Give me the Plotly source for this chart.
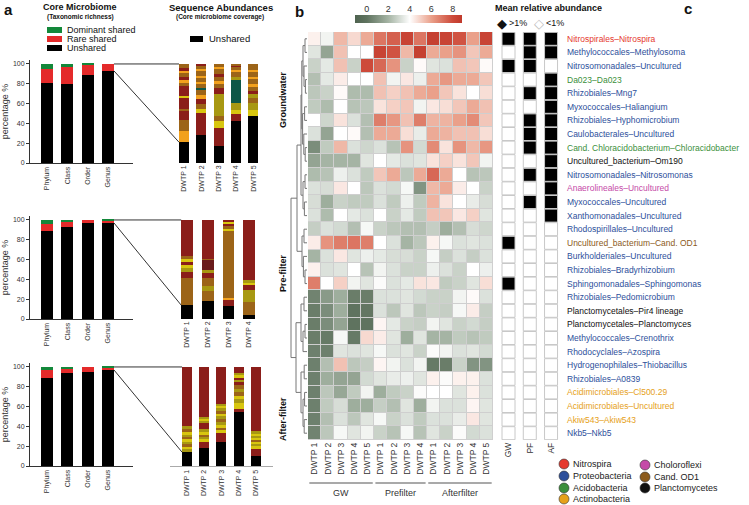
import plotly.graph_objects as go

W, H = 749, 505
FONT = "Liberation Sans, Arial, sans-serif"


def px(x):
    return x / W


def py(y):
    return 1 - y / H


# ---------------- panel a : core microbiome (taxonomic richness) ----------------
RANKS = ["Phylum", "Class", "Order", "Genus"]
GW_UNSHARED = [81, 80, 89, 93]
GW_RARE = [14, 17, 10, 7]
GW_DOMINANT = [5, 3, 1, 0]
PF_UNSHARED = [89, 93, 97, 97]
PF_RARE = [7, 5, 3, 2]
PF_DOMINANT = [4, 2, 0, 1]
AF_UNSHARED = [89, 94, 95, 97]
AF_RARE = [8, 4, 5, 2]
AF_DOMINANT = [3, 2, 0, 1]

# ---------------- sequence abundances (core microbiome coverage) ----------------
# k = unshared, other letters = shared genera (colour groups)
SEQ_COLORS = {"k": "#000000", "R": "#8b1e1a", "M": "#6a1c1c", "B": "#9c6418",
              "V": "#a89812", "Y": "#d8c60f", "O": "#f2a11d", "T": "#0e5747"}

GW_SAMPLES = ["DWTP 1", "DWTP 2", "DWTP 3", "DWTP 4", "DWTP 5"]
GW_SEQ_CODES = [
    list("kOBRBRYRBORBORB"),
    list("kRYBROBTBOBOBOBR"),
    list("kRYBVRBOBRBOB"),
    list("kRYVTVBOBRB"),
    list("kYVBVRBOBOBOB"),
]
GW_SEQ_VALUES = [
    [21, 11, 11, 10, 2, 11, 2, 10, 3, 3, 3, 4, 2, 3, 4],
    [28, 22, 5, 5, 5, 4, 5, 2, 4, 2, 4, 2, 5, 2, 3, 2],
    [17, 18, 7, 5, 23, 6, 4, 3, 4, 3, 5, 2, 3],
    [42, 7, 5, 7, 23, 3, 5, 2, 3, 1, 2],
    [47, 7, 7, 5, 4, 3, 4, 3, 5, 2, 5, 2, 6],
]

PF_SAMPLES = ["DWTP 1", "DWTP 2", "DWTP 3", "DWTP 4"]
PF_SEQ_CODES = [
    list("kBRVYRYBR"),
    list("kBVBRVMBR"),
    list("kROBYBRYR"),
    list("kBVRYVR"),
]
PF_SEQ_VALUES = [
    [14, 27, 6, 5, 3, 3, 3, 3, 36],
    [18, 10, 5, 8, 5, 3, 11, 1, 39],
    [13, 7, 1, 68, 2, 3, 2, 2, 2],
    [4, 13, 12, 5, 3, 2, 61],
]

AF_SAMPLES = ["DWTP 1", "DWTP 2", "DWTP 3", "DWTP 4", "DWTP 5"]
AF_SEQ_CODES = [
    list("kVYBVYBVYBVR"),
    list("kRYVBYVRVYVR"),
    list("kRYBYVBVYBVYVR"),
    list("kRYVYBVBRVRYVR"),
    list("kRYVYBYVYVR"),
]
AF_SEQ_VALUES = [
    [14, 3, 3, 2, 3, 2, 3, 2, 2, 3, 3, 60],
    [18, 7, 2, 3, 2, 2, 3, 6, 3, 2, 1, 51],
    [24, 9, 3, 3, 2, 3, 3, 3, 3, 3, 3, 2, 2, 37],
    [55, 3, 6, 4, 3, 4, 3, 4, 3, 2, 2, 3, 2, 6],
    [10, 8, 2, 3, 2, 2, 2, 2, 2, 2, 65],
]

# ---------------- panel b : heatmap ----------------
HEAT_COLS = ["DWTP 1", "DWTP 2", "DWTP 3", "DWTP 4", "DWTP 5",
             "DWTP 1", "DWTP 2", "DWTP 3", "DWTP 4",
             "DWTP 1", "DWTP 2", "DWTP 3", "DWTP 4", "DWTP 5"]
HEAT_Z = [
    [4.3, 3.7, 5.5, 4.8, 5.8, 7.0, 7.5, 8.3, 7.0, 8.5, 8.3, 7.8, 6.0, 8.3],
    [3.3, 1.5, 5.3, 4.0, 4.0, 8.3, 7.8, 5.5, 8.5, 5.8, 6.0, 6.3, 5.2, 5.8],
    [2.8, 3.4, 5.3, 2.8, 8.0, 7.3, 6.3, 2.8, 4.1, 3.3, 3.2, 5.3, 5.2, 4.1],
    [2.3, 3.4, 4.4, 4.0, 4.0, 5.3, 3.7, 4.5, 3.6, 5.8, 6.2, 5.8, 5.8, 5.2],
    [2.5, 2.8, 4.1, 2.2, 2.2, 5.3, 5.0, 5.3, 5.8, 6.0, 5.2, 4.6, 4.0, 4.7],
    [2.6, 2.2, 4.0, 2.4, 2.5, 4.6, 5.0, 5.2, 3.7, 4.5, 4.7, 5.2, 5.8, 5.3],
    [4.0, 2.9, 4.6, 3.2, 2.3, 6.8, 6.2, 5.3, 6.8, 5.6, 5.6, 6.0, 6.5, 5.2],
    [3.2, 1.5, 4.0, 4.1, 2.3, 5.8, 5.8, 4.7, 3.5, 5.8, 5.6, 5.3, 5.3, 4.7],
    [0.8, 2.6, 5.5, 3.2, 2.9, 3.2, 2.4, 6.3, 3.0, 6.5, 4.6, 6.3, 5.5, 6.2],
    [1.5, 2.0, 2.0, 2.0, 3.3, 4.0, 3.4, 3.2, 3.3, 4.6, 5.0, 4.6, 5.2, 3.7],
    [2.2, 2.4, 3.6, 3.2, 2.6, 5.2, 5.8, 2.5, 5.8, 7.3, 5.8, 4.0, 2.4, 2.5],
    [3.2, 3.1, 4.5, 4.0, 2.5, 3.2, 3.0, 3.8, 1.0, 5.5, 5.8, 4.4, 4.0, 2.8],
    [3.1, 1.8, 2.8, 2.6, 2.6, 3.2, 2.6, 3.6, 2.6, 5.6, 4.6, 4.0, 3.5, 3.1],
    [3.2, 2.2, 4.0, 3.4, 3.2, 4.0, 2.8, 3.4, 2.6, 5.3, 5.2, 4.5, 5.0, 3.3],
    [2.7, 3.2, 3.0, 2.3, 3.8, 2.8, 2.5, 2.3, 2.3, 2.7, 1.8, 2.3, 3.1, 2.9],
    [4.4, 6.3, 6.8, 7.0, 6.8, 4.0, 3.2, 2.0, 2.5, 4.3, 3.8, 3.2, 3.3, 3.2],
    [2.0, 3.2, 4.5, 3.3, 3.6, 3.4, 3.1, 3.1, 2.8, 3.8, 2.7, 3.2, 2.7, 3.2],
    [4.3, 3.2, 3.3, 4.0, 2.4, 3.7, 3.2, 2.8, 2.8, 3.6, 3.2, 2.8, 4.0, 3.6],
    [6.8, 4.0, 5.0, 3.7, 3.3, 3.9, 3.2, 3.4, 4.6, 4.5, 2.6, 2.8, 3.3, 4.7],
    [0.5, 1.2, 1.8, 0.3, 0.3, 3.2, 3.2, 3.3, 3.0, 2.8, 2.8, 3.7, 4.1, 3.2],
    [0.3, 0.8, 1.8, 0.0, 0.1, 3.2, 2.5, 3.3, 2.5, 2.8, 2.7, 3.8, 4.4, 2.7],
    [0.3, 0.8, 1.5, 0.0, 0.0, 4.2, 3.4, 2.8, 2.7, 3.7, 3.3, 2.8, 3.0, 2.7],
    [0.3, 0.2, 3.8, 0.2, 4.8, 4.4, 3.3, 1.8, 3.3, 2.0, 2.0, 2.6, 2.4, 2.6],
    [0.4, 0.4, 3.3, 3.2, 3.3, 3.8, 3.2, 3.3, 2.8, 3.9, 3.7, 3.2, 3.3, 3.0],
    [0.4, 2.3, 5.3, 2.5, 2.7, 4.2, 3.7, 3.2, 3.7, 0.2, 0.3, 2.8, 1.0, 1.0],
    [0.4, 1.8, 1.5, 1.5, 3.0, 3.3, 3.5, 3.6, 3.3, 4.3, 3.9, 4.3, 4.3, 3.2],
    [0.4, 2.5, 1.6, 2.6, 3.7, 1.8, 2.6, 2.8, 3.9, 4.0, 4.0, 3.3, 4.3, 3.2],
    [0.4, 2.6, 3.1, 1.8, 1.8, 2.7, 2.3, 3.3, 1.8, 3.7, 3.2, 3.2, 4.2, 3.3],
    [0.4, 2.3, 3.2, 2.5, 3.3, 3.8, 2.8, 3.2, 2.6, 3.2, 3.2, 3.5, 4.5, 3.3],
    [0.5, 2.5, 3.8, 3.3, 3.7, 2.8, 2.4, 3.8, 2.4, 3.3, 2.8, 3.9, 3.0, 3.2],
]
HEAT_GROUPS = ["GW", "Prefilter", "Afterfilter"]
HEAT_GROUP_SPANS = [(0, 4), (5, 8), (9, 13)]

TAXA = [
    "Nitrospirales\u2013Nitrospira", "Methylococcales\u2013Methylosoma",
    "Nitrosomonadales\u2013Uncultured", "Da023\u2013Da023", "Rhizobiales\u2013Mng7",
    "Myxococcales\u2013Haliangium", "Rhizobiales\u2013Hyphomicrobium",
    "Caulobacterales\u2013Uncultured", "Cand. Chloracidobacterium\u2013Chloracidobacter",
    "Uncultured_bacterium\u2013Om190", "Nitrosomonadales\u2013Nitrosomonas",
    "Anaerolineales\u2013Uncultured", "Myxococcales\u2013Uncultured",
    "Xanthomonadales\u2013Uncultured", "Rhodospirillales\u2013Uncultured",
    "Uncultured_bacterium\u2013Cand. OD1", "Burkholderiales\u2013Uncultured",
    "Rhizobiales\u2013Bradyrhizobium", "Sphingomonadales\u2013Sphingomonas",
    "Rhizobiales\u2013Pedomicrobium", "Planctomycetales\u2013Pir4 lineage",
    "Planctomycetales\u2013Planctomyces", "Methylococcales\u2013Crenothrix",
    "Rhodocyclales\u2013Azospira", "Hydrogenophilales\u2013Thiobacillus",
    "Rhizobiales\u2013A0839", "Acidimicrobiales\u2013Cl500.29",
    "Acidimicrobiales\u2013Uncultured", "Akiw543\u2013Akiw543", "Nkb5\u2013Nkb5",
]
TAXA_PHYLUM = ["Nit", "Pro", "Pro", "Aci", "Pro", "Pro", "Pro", "Pro", "Aci", "Pla",
               "Pro", "Chl", "Pro", "Pro", "Pro", "OD1", "Pro", "Pro", "Pro", "Pro",
               "Pla", "Pla", "Pro", "Pro", "Pro", "Pro", "Act", "Act", "Act", "Pro"]

# mean relative abundance > 1 % (1) or < 1 % (0)
ABOVE_GW = [1, 0, 1, 0, 0, 0, 0, 0, 0, 0, 0, 0, 0, 0, 0,
            1, 0, 0, 1, 0, 0, 0, 0, 0, 0, 0, 0, 0, 0, 0]
ABOVE_PF = [1, 1, 1, 0, 1, 0, 1, 1, 1, 0, 1, 0, 1, 0, 0,
            0, 0, 0, 0, 0, 0, 0, 0, 0, 0, 0, 0, 0, 0, 0]
ABOVE_AF = [1, 1, 0, 1, 1, 1, 1, 1, 1, 1, 1, 1, 1, 1, 0,
            0, 0, 0, 0, 0, 0, 0, 0, 0, 0, 0, 0, 0, 0, 0]
BOX_COLS = ["GW", "PF", "AF"]

PHYLA = ["Nitrospira", "Proteobacteria", "Acidobacteria", "Actinobacteria",
         "Choloroflexi", "Cand. OD1", "Planctomycetes"]
PHYLA_KEYS = ["Nit", "Pro", "Aci", "Act", "Chl", "OD1", "Pla"]
PHYLA_COLORS = ["#e5392e", "#2d4f9b", "#3b8f3b", "#e6a11a", "#c54aa8", "#8c5b1c", "#111111"]
PHYLUM_COLOR = dict(zip(PHYLA_KEYS, PHYLA_COLORS))

# dendrogram (height, left, right); leaves are row indices
TREE = (8,
        (5,
         (3,
          (2.6,
           (2, (1, 0, 1), (1.5, 2, (0.8, 3, 4))),
           (2.2, (1.2, 5, 6), (1.6, 7, (0.9, 8, 9)))),
          (2, (1, 10, 11), (1.3, 12, 13))),
         (2.5, (1.5, 14, 15), (1.8, 16, (1, 17, 18)))),
        (5.5,
         (3, (1.5, 19, 20), (2, (1, 21, 22), 23)),
         (3, (1.4, 24, 25), (2, (1.2, 26, 27), (1.4, 28, 29)))))

fig = go.Figure()

# ---- core microbiome bars ----
core_sets = [(GW_UNSHARED, GW_RARE, GW_DOMINANT, ""),
             (PF_UNSHARED, PF_RARE, PF_DOMINANT, "2"),
             (AF_UNSHARED, AF_RARE, AF_DOMINANT, "3")]
for unsh, rare, dom, ax in core_sets:
    for vals, col in [(unsh, "#000000"), (rare, "#e42a2a"), (dom, "#13883a")]:
        fig.add_trace(go.Bar(x=RANKS, y=vals, marker=dict(color=col, line=dict(width=0)),
                             width=0.6, xaxis="x" + ax, yaxis="y" + ax, showlegend=False))

# ---- sequence abundance bars ----
seq_sets = [(GW_SAMPLES, GW_SEQ_CODES, GW_SEQ_VALUES, "4", 0.58),
            (PF_SAMPLES, PF_SEQ_CODES, PF_SEQ_VALUES, "5", 0.56),
            (AF_SAMPLES, AF_SEQ_CODES, AF_SEQ_VALUES, "6", 0.58)]
for samples, codes, values, ax, w in seq_sets:
    for s, cs, vs in zip(samples, codes, values):
        for c, v in zip(cs, vs):
            fig.add_trace(go.Bar(x=[s], y=[v], marker=dict(color=SEQ_COLORS[c], line=dict(width=0)),
                                 width=w, xaxis="x" + ax, yaxis="y" + ax, showlegend=False))

# ---- heatmap ----
ZMIN, ZMAX = -1.1, 8.85


def zt(v):
    return (v - ZMIN) / (ZMAX - ZMIN)


colorscale = [[0, "#4f6350"], [zt(0), "#5f735f"], [zt(2), "#a5b4a4"], [zt(4), "#ffffff"],
              [zt(6), "#eaa08a"], [zt(8), "#cd4a3a"], [1, "#c0392b"]]
fig.add_trace(go.Heatmap(
    z=HEAT_Z, x=list(range(len(HEAT_COLS))), y=list(range(len(TAXA))),
    colorscale=colorscale, zmin=ZMIN, zmax=ZMAX, xgap=1, ygap=1,
    xaxis="x7", yaxis="y7",
    colorbar=dict(orientation="h", x=px(355), xanchor="left", y=py(15), yanchor="top",
                  len=107, lenmode="pixels", thickness=8, xpad=0, ypad=0,
                  outlinewidth=0, showticklabels=False, ticks=""),
))

# ---- >1% boxes ----
bx, by, bc = [], [], []
for j, col in enumerate([ABOVE_GW, ABOVE_PF, ABOVE_AF]):
    for i, a in enumerate(col):
        bx.append(j)
        by.append(i)
        bc.append("#000000" if a else "#ffffff")
fig.add_trace(go.Scatter(x=bx, y=by, mode="markers", xaxis="x8", yaxis="y8", showlegend=False,
                         marker=dict(symbol="square", size=13, color=bc,
                                     line=dict(color="#c8c8c8", width=1))))

# dummy trace carrying the colour-bar tick axis
fig.add_trace(go.Scatter(x=[None], y=[None], xaxis="x9", yaxis="y9", showlegend=False))

# ---------------- axes ----------------
tick_font = dict(size=7, color="#333")
core_dom = [[py(163), py(60)], [py(319), py(216)], [py(466), py(363)]]
seq_ranges = [[-0.81, 5.14], [-0.82, 4.15], [-0.99, 5.0]]
layout_axes = {}
for k, ax in enumerate(["", "2", "3"]):
    layout_axes["xaxis" + ax] = dict(domain=[px(30), px(133)], range=[-0.84, 4.24], anchor="y" + ax,
                                     type="category", showline=True, linecolor="#333", ticks="",
                                     tickangle=-90, tickfont=tick_font, showgrid=False, zeroline=False)
    layout_axes["yaxis" + ax] = dict(domain=core_dom[k], range=[0, 104], anchor="x" + ax,
                                     showline=True, linecolor="#333", ticks="outside", ticklen=3,
                                     tickcolor="#333", tickvals=[0, 20, 40, 60, 80, 100],
                                     tickfont=tick_font, showgrid=False, zeroline=False,
                                     title=dict(text="percentage %", font=dict(size=9, color="#333"),
                                                standoff=4))
for k, ax in enumerate(["4", "5", "6"]):
    layout_axes["xaxis" + ax] = dict(domain=[px(170), px(273)], range=seq_ranges[k], anchor="y" + ax,
                                     type="category", showline=(k == 2), linecolor="#aaa", ticks="",
                                     tickangle=-90, tickfont=tick_font, showgrid=False, zeroline=False)
    layout_axes["yaxis" + ax] = dict(domain=core_dom[k], range=[0, 104], anchor="x" + ax, visible=False)

heat_ydom = [py(440), py(32)]
layout_axes["xaxis7"] = dict(domain=[px(308), px(493)], range=[-0.5, 13.5], anchor="y7",
                             tickvals=list(range(len(HEAT_COLS))), ticktext=HEAT_COLS, tickangle=-90,
                             tickfont=dict(size=8.5, color="#333"), ticks="", showgrid=False,
                             zeroline=False, showline=False)
layout_axes["yaxis7"] = dict(domain=heat_ydom, range=[29.5, -0.5], anchor="x7", visible=False)
layout_axes["xaxis8"] = dict(domain=[px(500), px(560)], range=[-0.4, 2.42], anchor="y8",
                             tickvals=[0, 1, 2], ticktext=BOX_COLS, tickangle=-90,
                             tickfont=dict(size=8.5, color="#333"), ticks="", showgrid=False,
                             zeroline=False, showline=False)
layout_axes["yaxis8"] = dict(domain=heat_ydom, range=[29.5, -0.5], anchor="x8", visible=False)
layout_axes["xaxis9"] = dict(domain=[px(355), px(462)], range=[ZMIN, ZMAX], anchor="y9", side="top",
                             tickvals=[0, 2, 4, 6, 8], tickfont=dict(size=9, color="#333"), ticks="",
                             showgrid=False, zeroline=False, showline=False)
layout_axes["yaxis9"] = dict(domain=[py(23), py(15)], range=[0, 1], anchor="x9", visible=False)

# ---------------- shapes ----------------
shapes = []
LINE = dict(color="#333", width=1)


def ax_to_paper(v, dom, rng):
    return dom[0] + (v - rng[0]) / (rng[1] - rng[0]) * (dom[1] - dom[0])


core_xdom = [px(30), px(133)]
core_xrng = [-0.84, 4.24]
seq_xdom = [px(170), px(273)]
for k, (unsh, seqvals, w) in enumerate([(GW_UNSHARED, GW_SEQ_VALUES, 0.58),
                                        (PF_UNSHARED, PF_SEQ_VALUES, 0.56),
                                        (AF_UNSHARED, AF_SEQ_VALUES, 0.58)]):
    x0 = ax_to_paper(3 + 0.3, core_xdom, core_xrng)
    x1 = ax_to_paper(0 - w / 2, seq_xdom, seq_ranges[k])
    ytop = ax_to_paper(100, core_dom[k], [0, 104])
    y0 = ax_to_paper(unsh[3], core_dom[k], [0, 104])
    y1 = ax_to_paper(seqvals[0][0], core_dom[k], [0, 104])
    shapes.append(dict(type="line", xref="paper", yref="paper", x0=x0, x1=x1, y0=ytop, y1=ytop, line=LINE))
    shapes.append(dict(type="line", xref="paper", yref="paper", x0=x0, x1=x1, y0=y0, y1=y1, line=LINE))

# heatmap grid background
shapes.append(dict(type="rect", xref="x7", yref="y7", x0=-0.5, x1=13.5, y0=-0.5, y1=29.5,
                   fillcolor="#cfcfcf", line=dict(width=0), layer="below"))

# group lines under heatmap columns
for (a, b) in HEAT_GROUP_SPANS:
    shapes.append(dict(type="line", xref="x7", yref="paper", x0=a - 0.4, x1=b + 0.4,
                       y0=py(483), y1=py(483), line=dict(color="#555", width=1.2)))

# dendrogram
DLINE = dict(color="#777", width=1)


def dend_x(h):
    return px(307 - h * 2)


def draw_tree(node):
    if isinstance(node, int):
        return 0.0, float(node)
    h, left, right = node
    hl, yl = draw_tree(left)
    hr, yr = draw_tree(right)
    xn = dend_x(h)
    shapes.append(dict(type="line", xref="paper", yref="y7", x0=dend_x(hl), x1=xn, y0=yl, y1=yl, line=DLINE))
    shapes.append(dict(type="line", xref="paper", yref="y7", x0=dend_x(hr), x1=xn, y0=yr, y1=yr, line=DLINE))
    shapes.append(dict(type="line", xref="paper", yref="y7", x0=xn, x1=xn, y0=yl, y1=yr, line=DLINE))
    return h, (yl + yr) / 2


draw_tree(TREE)

# legend swatches (panel a)
for yy, col in [(30, "#13883a"), (39, "#e42a2a"), (48, "#000000")]:
    shapes.append(dict(type="rect", xref="paper", yref="paper", x0=px(47), x1=px(62),
                       y0=py(yy + 3), y1=py(yy - 3), fillcolor=col, line=dict(width=0)))
shapes.append(dict(type="rect", xref="paper", yref="paper", x0=px(190), x1=px(203),
                   y0=py(42), y1=py(36), fillcolor="#000", line=dict(width=0)))

# phylum legend circles
leg_pos = [(564, 464), (564, 476), (564, 488), (564, 499), (645, 465), (645, 477), (645, 488)]
for (cx, cy), col in zip(leg_pos, PHYLA_COLORS):
    shapes.append(dict(type="circle", xref="paper", yref="paper", x0=px(cx - 5), x1=px(cx + 5),
                       y0=py(cy + 5), y1=py(cy - 5), fillcolor=col, line=dict(color="#333", width=0.6)))

# ---------------- annotations ----------------
ann = []


def text(x, y, s, size=9, color="#111", bold=False, xanchor="center", angle=0, **kw):
    t = "<b>%s</b>" % s if bold else s
    d = dict(xref="paper", yref="paper", x=px(x), y=py(y), text=t, showarrow=False,
             font=dict(size=size, color=color, family=FONT), xanchor=xanchor, yanchor="middle",
             textangle=angle)
    d.update(kw)
    ann.append(d)


text(2, 9, "a", size=15, bold=True, xanchor="left")
text(80, 7, "Core Microbiome", size=9, bold=True)
text(80, 17, "(Taxonomic richness)", size=6.5, bold=True)
text(221, 7, "Sequence Abundances", size=9.5, bold=True)
text(220, 17, "(Core microbiome coverage)", size=6.5, bold=True)
text(65, 30, "Dominant shared", size=9, xanchor="left")
text(65, 39, "Rare shared", size=9, xanchor="left")
text(65, 48, "Unshared", size=9, xanchor="left")
text(207, 39, "Unshared", size=9.5, xanchor="left")
text(283, 100, "Groundwater", size=9, bold=True, angle=-90)
text(283, 273, "Pre-filter", size=9, bold=True, angle=-90)
text(283, 419, "After-filter", size=9, bold=True, angle=-90)
text(293, 11, "b", size=15, bold=True, xanchor="left")
text(493, 8, "Mean relative abundance", size=9, bold=True, xanchor="left")
text(495, 23, "\u25c6", size=13, xanchor="left")
text(507, 23, "&gt;1%", size=9, xanchor="left")
text(532, 23, "\u25c7", size=13, color="#bbbbbb", xanchor="left")
text(544, 23, "&lt;1%", size=9, xanchor="left")
text(682, 8, "c", size=15, bold=True, xanchor="left")

for (a, b), g in zip(HEAT_GROUP_SPANS, HEAT_GROUPS):
    ann.append(dict(xref="x7", yref="paper", x=(a + b) / 2, y=py(493), text=g, showarrow=False,
                    font=dict(size=9, color="#333", family=FONT), yanchor="middle"))

for i, (t, p) in enumerate(zip(TAXA, TAXA_PHYLUM)):
    ann.append(dict(xref="paper", yref="y8", x=px(565), y=i, text=t, showarrow=False,
                    xanchor="left", yanchor="middle",
                    font=dict(size=8.5, color=PHYLUM_COLOR[p], family=FONT)))

for (cx, cy), name in zip(leg_pos, PHYLA):
    text(cx + 7, cy, name, size=9, color="#222", xanchor="left")

fig.update_layout(
    width=W, height=H, margin=dict(l=0, r=0, t=0, b=0),
    template="none", paper_bgcolor="white", plot_bgcolor="white",
    barmode="stack", showlegend=False,
    font=dict(family=FONT, size=9, color="#333"),
    shapes=shapes, annotations=ann,
    **layout_axes,
)

fig.write_html("out.html", config={"displayModeBar": False},
               post_script="document.body.style.margin='0';")
